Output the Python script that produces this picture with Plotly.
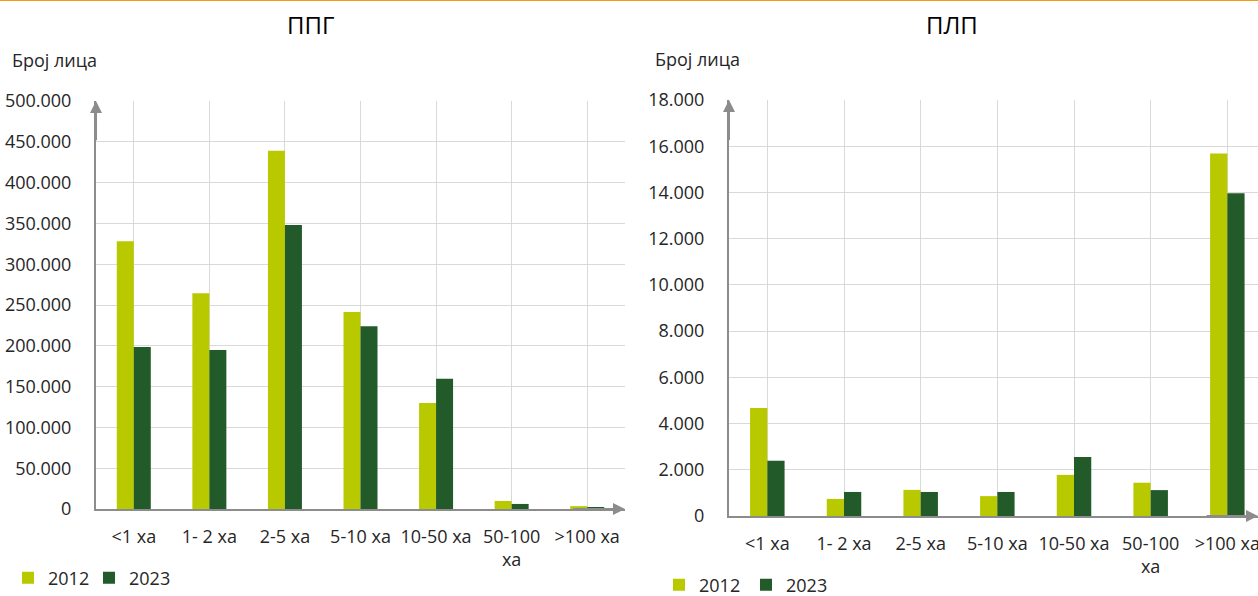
import plotly.graph_objects as go

categories = ["<1 ха", "1- 2 ха", "2-5 ха", "5-10 ха", "10-50 ха", "50-100<br>ха", ">100 ха"]
years = ["2012", "2023"]

ppg_2012 = [328000, 264500, 439000, 241500, 130000, 9800, 3500]
ppg_2023 = [198500, 195000, 348000, 224000, 159500, 6200, 2000]

plp_2012 = [4670, 740, 1130, 860, 1780, 1440, 15680]
plp_2023 = [2390, 1040, 1040, 1040, 2550, 1120, 13960]

colors = ["#b8c900", "#235a2a"]
FONT = "Open Sans"
TXT = "#262626"
GRID = "#d9d9d9"
AX = "#8c8c8c"
FS = 18

W, H = 1258, 596
def px(x):
    return x / W
def py(y):
    return 1 - y / H

fig = go.Figure()

x_idx = list(range(len(categories)))
for vals, yr, c in [(ppg_2012, years[0], colors[0]), (ppg_2023, years[1], colors[1])]:
    fig.add_trace(go.Bar(x=x_idx, y=vals, name=yr, marker=dict(color=c, line=dict(width=0)),
                         xaxis="x", yaxis="y", legend="legend"))
for vals, yr, c in [(plp_2012, years[0], colors[0]), (plp_2023, years[1], colors[1])]:
    fig.add_trace(go.Bar(x=x_idx, y=vals, name=yr, marker=dict(color=c, line=dict(width=0)),
                         xaxis="x2", yaxis="y2", legend="legend2"))

xcommon = dict(tickmode="array", tickvals=x_idx, ticktext=categories, tickson="boundaries",
               showgrid=True, gridcolor=GRID, gridwidth=1, showline=True, linecolor=AX, linewidth=2,
               ticks="", tickfont=dict(family=FONT, size=FS, color=TXT), ticklabelstandoff=10,
               ticklabeloverflow="allow",
               zeroline=False, fixedrange=True, automargin=False)
ycommon = dict(showgrid=True, gridcolor=GRID, gridwidth=1, showline=True, linecolor=AX, linewidth=2,
               ticks="", tickfont=dict(family=FONT, size=FS, color=TXT), tickformat=",.0f",
               ticklabeloverflow="allow",
               zeroline=False, ticklabelstandoff=19, automargin=False)

fig.update_layout(
    width=W, height=H, autosize=False,
    margin=dict(l=0, r=0, t=0, b=0, pad=0, autoexpand=False),
    paper_bgcolor="white", plot_bgcolor="white",
    separators=",.",
    barmode="group", bargap=0.55, bargroupgap=0,
    xaxis=dict(domain=[px(96), px(625)], range=[-0.5, 6.5], anchor="y", **xcommon),
    yaxis=dict(domain=[py(509), py(101)], range=[0, 500000], dtick=50000, anchor="x", **ycommon),
    xaxis2=dict(domain=[px(729), 1.0], range=[-0.5, 6.4], anchor="y2", **xcommon),
    yaxis2=dict(domain=[py(516), py(100)], range=[0, 18000], dtick=2000, anchor="x2", **ycommon),
    legend=dict(orientation="h", x=px(8), y=py(578), xanchor="left", yanchor="middle",
                entrywidth=36, entrywidthmode="pixels",
                font=dict(family=FONT, size=FS, color=TXT), bgcolor="rgba(0,0,0,0)"),
    legend2=dict(orientation="h", x=px(659), y=py(585), xanchor="left", yanchor="middle",
                 entrywidth=42, entrywidthmode="pixels",
                 font=dict(family=FONT, size=FS, color=TXT), bgcolor="rgba(0,0,0,0)"),
    showlegend=True,
)

# titles and axis captions
fig.add_annotation(text="ППГ", x=px(310), y=py(25), xref="paper", yref="paper", showarrow=False,
                   font=dict(family=FONT, size=24, color="black"), xanchor="center", yanchor="middle")
fig.add_annotation(text="ПЛП", x=px(952), y=py(25), xref="paper", yref="paper", showarrow=False,
                   font=dict(family=FONT, size=24, color="black"), xanchor="center", yanchor="middle")
fig.add_annotation(text="Број лица", x=px(10), y=py(60), xref="paper", yref="paper", showarrow=False,
                   font=dict(family=FONT, size=FS, color=TXT), xanchor="left", yanchor="middle")
fig.add_annotation(text="Број лица", x=px(653), y=py(59), xref="paper", yref="paper", showarrow=False,
                   font=dict(family=FONT, size=FS, color=TXT), xanchor="left", yanchor="middle")

# axis arrows
for xa, ya in [("x", "y"), ("x2", "y2")]:
    fig.add_annotation(x=0, y=1.0, ax=0, ay=0.9, xref=f"{xa} domain", yref=f"{ya} domain",
                       axref=f"{xa} domain", ayref=f"{ya} domain", text="", showarrow=True,
                       arrowhead=2, arrowsize=1.2, arrowwidth=2, arrowcolor=AX)
    fig.add_annotation(x=1.0, y=0, ax=0.9, ay=0, xref=f"{xa} domain", yref=f"{ya} domain",
                       axref=f"{xa} domain", ayref=f"{ya} domain", text="", showarrow=True,
                       arrowhead=2, arrowsize=1.2, arrowwidth=2, arrowcolor=AX)

# orange top rule
fig.add_shape(type="line", xref="paper", yref="paper", x0=0, x1=1, y0=1, y1=1,
              line=dict(color="#f39a1e", width=2))

post = """
document.documentElement.style.margin='0';
document.body.style.margin='0';
document.body.style.padding='0';
document.body.style.overflow='hidden';
var gd=document.getElementById('{plot_id}');
gd.style.position='absolute'; gd.style.left='0px'; gd.style.top='0px';
gd.style.width='1258px'; gd.style.height='596px';
Plotly.relayout(gd,{width:1258,height:596});
"""

fig.write_html("out.html", post_script=post,
               config={"responsive": False, "displayModeBar": False},
               default_width="1258px", default_height="596px")
